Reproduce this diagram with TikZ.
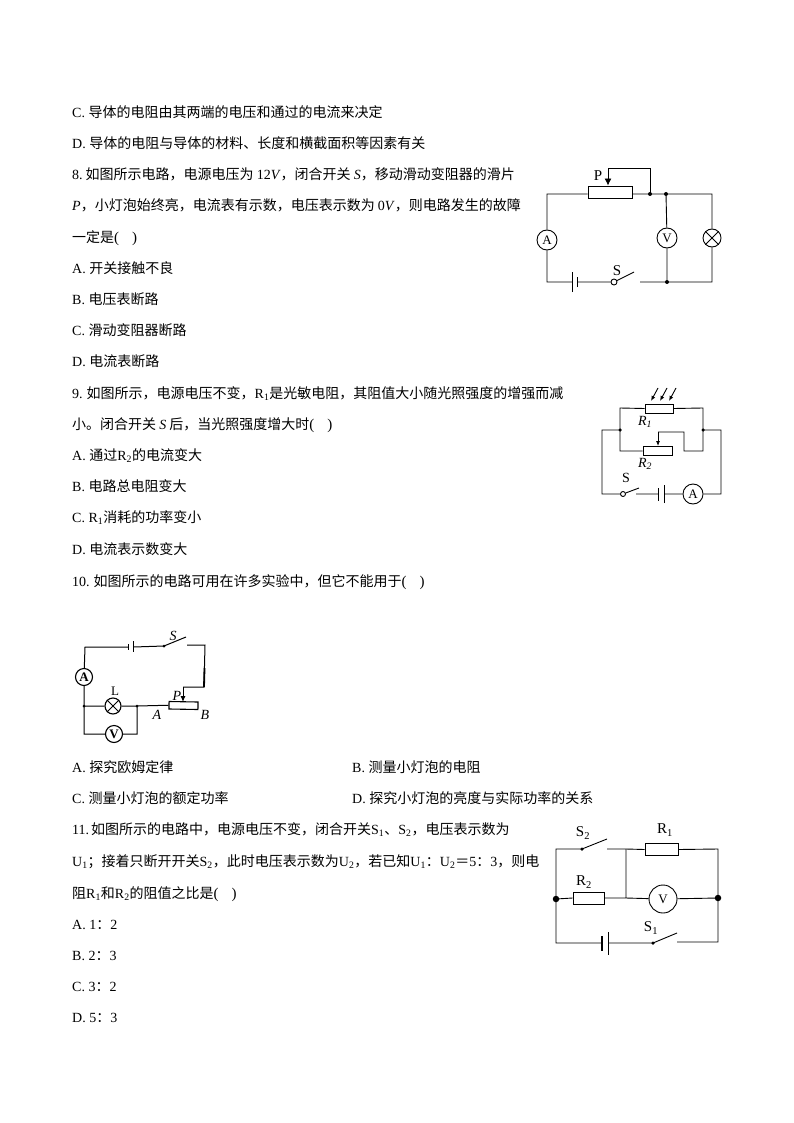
\documentclass[tikz,border=0pt]{standalone}
\usepackage{fontspec}
\setmainfont{Noto Sans CJK SC}
\newfontfamily\latinfont{Liberation Serif}
\usetikzlibrary{arrows.meta}
\newcommand{\lat}[1]{{\latinfont #1}}
\newcommand{\lati}[1]{{\latinfont\itshape #1}}
\newcommand{\lsub}[2]{{\latinfont #1\textsubscript{#2}}}
\newcommand{\blank}{\lat{\fontsize{15}{15}\selectfont(\hspace{13pt})}}
\tikzset{
	line/.style={anchor=base west,inner sep=0pt,font=\fontsize{14}{14}\selectfont},
	wire/.style={line width=0.9pt},
	meter/.style={draw,circle,inner sep=0pt,minimum size=20pt,font=\latinfont\fontsize{13}{13}\selectfont},
	lamp/.style={draw,circle,inner sep=0pt,minimum size=18pt},
	res/.style={draw,rectangle,inner sep=0pt},
	dot/.style={fill,circle,inner sep=0pt,minimum size=4pt},
	pivot/.style={draw,circle,inner sep=0pt,minimum size=6pt},
	lab/.style={inner sep=0pt,font=\latinfont\fontsize{15}{15}\selectfont},
	labi/.style={inner sep=0pt,font=\latinfont\itshape\fontsize{14}{14}\selectfont}
}
\begin{document}
\begin{tikzpicture}[x=1pt,y=-1pt]
	\useasboundingbox (0,0) rectangle (794,1123);
	\node[line] (c7) at (72,118) {\lat{C. }导体的电阻由其两端的电压和通过的电流来决定};
	\node[line] (d7) at (72,149) {\lat{D. }导体的电阻与导体的材料、长度和横截面积等因素有关};
	\node[line] (q8a) at (72,180) {\lat{8.}\hspace{3pt}如图所示电路，电源电压为 \lat{12\textit{V}}，闭合开关 \lati{S}，移动滑动变阻器的滑片};
	\node[line] (q8b) at (72,211) {\lati{P}，小灯泡始终亮，电流表有示数，电压表示数为 \lat{0\textit{V}}，则电路发生的故障};
	\node[line] (q8c) at (72,242) {一定是\blank};
	\node[line] (a8) at (72,273) {\lat{A. }开关接触不良};
	\node[line] (b8) at (72,304) {\lat{B. }电压表断路};
	\node[line] (c8) at (72,335) {\lat{C. }滑动变阻器断路};
	\node[line] (d8) at (72,366) {\lat{D. }电流表断路};
	\node[line] (q9a) at (72,398) {\lat{9.}\hspace{4pt}如图所示，电源电压不变，\lsub{R}{1}是光敏电阻，其阻值大小随光照强度的增强而减};
	\node[line] (q9b) at (72,429) {小。闭合开关 \lati{S} 后，当光照强度增大时\blank};
	\node[line] (a9) at (72,460) {\lat{A. }通过\lsub{R}{2}的电流变大};
	\node[line] (b9) at (72,491) {\lat{B. }电路总电阻变大};
	\node[line] (c9) at (72,522) {\lat{C. }\lsub{R}{1}消耗的功率变小};
	\node[line] (d9) at (72,554) {\lat{D. }电流表示数变大};
	\node[line] (q10) at (72,586) {\lat{10.}\hspace{4pt}如图所示的电路可用在许多实验中，但它不能用于\blank};
	\node[line] (a10) at (72,772) {\lat{A. }探究欧姆定律};
	\node[line] (b10) at (352,772) {\lat{B. }测量小灯泡的电阻};
	\node[line] (c10) at (72,803) {\lat{C. }测量小灯泡的额定功率};
	\node[line] (d10) at (352,803) {\lat{D. }探究小灯泡的亮度与实际功率的关系};
	\node[line] (q11a) at (72,834) {\lat{11.}\hspace{2pt}如图所示的电路中，电源电压不变，闭合开关\lsub{S}{1}、\lsub{S}{2}，电压表示数为};
	\node[line] (q11b) at (72,866) {\lsub{U}{1}；接着只断开开关\lsub{S}{2}，此时电压表示数为\lsub{U}{2}，若已知\lsub{U}{1}：\lsub{U}{2}＝\lat{5}：\lat{3}，则电};
	\node[line] (q11c) at (72,898) {阻\lsub{R}{1}和\lsub{R}{2}的阻值之比是\blank};
	\node[line] (a11) at (72,929) {\lat{A. 1}：\lat{2}};
	\node[line] (b11) at (72,960) {\lat{B. 2}：\lat{3}};
	\node[line] (c11) at (72,991) {\lat{C. 3}：\lat{2}};
	\node[line] (d11) at (72,1022) {\lat{D. 5}：\lat{3}};

	\node[res,wire,minimum width=44pt,minimum height=12pt] (RP) at (610,192) {};
	\node[meter,wire] (A8) at (547,240) {A};
	\node[meter,wire] (V8) at (667,238) {V};
	\node[lamp,wire] (L8) at (712,238) {};
	\node[pivot,wire] (S8) at (614,282) {};
	\node[dot] (J1) at (650,194) {};
	\node[dot] (J2) at (666,194) {};
	\node[dot] (J3) at (667,282) {};
	\node[lab] (P8) at (598,176) {P};
	\node[lab] (SL8) at (617,271) {S};
	\coordinate (TL8) at (547,194);
	\coordinate (BL8) at (547,282);
	\coordinate (TR8) at (712,194);
	\coordinate (BR8) at (712,282);
	\coordinate (E8a) at (572,282);
	\coordinate (E8b) at (577,282);
	\coordinate (K8) at (634,272);
	\coordinate (G8) at (640,282);
	\draw[wire] (RP.west |- TL8) -- (TL8) -- (A8) (A8) -- (BL8) -- (E8a) (E8b) -- (S8) (S8) -- (K8) (G8) -- (J3.center) -- (BR8) -- (L8) (L8) -- (TR8) -- (J2.center) -- (J1.center) -- (RP.east |- J1) (J2) -- (V8) (V8) -- (J3);
	\draw[wire] ([yshift=-10pt]E8a) -- ([yshift=10pt]E8a) ([yshift=-5pt]E8b) -- ([yshift=5pt]E8b);
	\draw[wire] (L8.45) -- (L8.225) (L8.135) -- (L8.315);
	\draw[wire,-{Latex[length=7pt,width=7pt]}] (J1.center) -- (650,168) -- (608,168) -- (RP.north -| 608,0);

	\node[res,wire,minimum width=28pt,minimum height=9pt] (R1) at (659,408.5) {};
	\node[res,wire,minimum width=29pt,minimum height=9pt] (R2) at (657.5,451) {};
	\node[meter,wire] (A9) at (693,494) {A};
	\node[pivot,wire,minimum size=5pt] (S9) at (623,494) {};
	\node[dot,minimum size=3.5pt] (J4) at (620,430) {};
	\node[dot,minimum size=3.5pt] (J5) at (703,430) {};
	\node[labi] (RL1) at (645,422) {R\textsubscript{1}};
	\node[labi] (RL2) at (645,464) {R\textsubscript{2}};
	\node[lab,font=\latinfont\fontsize{14}{14}\selectfont] (SL9) at (626,478) {S};
	\coordinate (G9) at (636,494);
	\coordinate (K9) at (639,488);
	\coordinate (E9a) at (658,494);
	\coordinate (E9b) at (664,494);
	\draw[wire] (J4.center) -- (620,408) -- (R1.west) (R1.east) -- (703,408) -- (J5.center) -- (703,451) -- (684,451) -- (684,432) -- (658,432);
	\draw[wire,-{Latex[length=5pt,width=4pt]}] (658,432) -- (R2.north -| 658,0);
	\draw[wire] (J4.center) -- (620,451) -- (R2.west) (J4.center) -- (602,430) -- (602,494) -- (S9) (S9) -- (K9) (G9) -- (E9a) (E9b) -- (A9) (A9) -- (721,494) -- (721,430) -- (J5.center);
	\draw[wire] ([yshift=-6.5pt]E9a) -- ([yshift=6.5pt]E9a) ([yshift=-9pt]E9b) -- ([yshift=9pt]E9b);
	\foreach \k in {0,9,18}
		\draw[wire,-{Latex[length=5pt,width=4pt]}] (658+\k,388) -- (651+\k,401);

	\node[meter,minimum size=17pt,line width=1.1pt,font=\latinfont\bfseries\fontsize{13}{13}\selectfont] (A10) at (84,677) {A};
	\node[meter,minimum size=17pt,line width=1.1pt,font=\latinfont\bfseries\fontsize{13}{13}\selectfont] (V10) at (114,734) {V};
	\node[lamp,minimum size=16pt,line width=1.1pt] (L10) at (113,706) {};
	\node[res,line width=1.1pt,minimum width=29pt,minimum height=7.5pt,rotate=-1] (RB) at (183.5,705.5) {};
	\node[dot,minimum size=3pt] (J6) at (84,706) {};
	\node[dot,minimum size=3pt] (J7) at (137,706) {};
	\node[dot,minimum size=3pt] (S10) at (164,646) {};
	\node[labi] (SL10) at (173,636) {S};
	\node[lab,font=\latinfont\fontsize{13}{13}\selectfont] (LL10) at (115,691) {L};
	\node[labi] (PL10) at (177,696) {P};
	\node[labi] (AL10) at (157,715) {A};
	\node[labi] (BL10) at (205,715) {B};
	\coordinate (E10a) at (128.5,647);
	\coordinate (E10b) at (133.5,647);
	\draw[line width=1pt] (A10) -- (85,647) -- (E10a) (E10b) -- (S10.center) -- (186,637) (187,645) -- (205,645) -- (204,687) -- (183,687);
	\draw[line width=1.8pt] (204.5,668) -- (204,687);
	\draw[line width=1pt,-{Latex[length=6pt,width=5pt]}] (183,687) -- (183,702);
	\draw[line width=1pt] (A10) -- (J6.center) -- (L10) (L10) -- (J7.center) -- (RB.west) (J6.center) -- (84,734) -- (V10) (V10) -- (137,734) -- (J7.center);
	\draw[line width=0.8pt] (E10a |- 0,644) -- (E10a |- 0,650);
	\draw[line width=1.4pt] (E10b |- 0,641) -- (E10b |- 0,652);
	\draw[line width=1pt] (L10.45) -- (L10.225) (L10.135) -- (L10.315);

	\node[res,wire,minimum width=33pt,minimum height=12pt] (R11a) at (661.5,849.5) {};
	\node[res,wire,minimum width=31pt,minimum height=12pt] (R11b) at (588.5,898) {};
	\node[meter,wire,minimum size=28pt] (V11) at (663,899) {V};
	\node[dot,minimum size=3.5pt] (S21) at (582,849) {};
	\node[dot,minimum size=3.5pt] (S11) at (653,943) {};
	\node[dot,minimum size=6.5pt] (J8) at (556,899) {};
	\node[dot,minimum size=6.5pt] (J9) at (718,898) {};
	\node[lab] (SL1) at (651,928) {S\textsubscript{1}};
	\node[lab] (SL2) at (583,833) {S\textsubscript{2}};
	\node[lab] (RL11a) at (665,830) {R\textsubscript{1}};
	\node[lab] (RL11b) at (584,882) {R\textsubscript{2}};
	\coordinate (M11) at (626,849);
	\coordinate (N11) at (626,898);
	\coordinate (E11a) at (602,943);
	\coordinate (E11b) at (608,943);
	\draw[wire] (J8.center) -- (556,849) -- (S21.center) -- (607,839) (607,849) -- (M11) -- (R11a.west) (R11a.east) -- (718,849) -- (J9.center) -- (718,942) -- (677,942) (677,933) -- (S11.center) -- (E11b) (E11a) -- (556,943) -- (J8.center);
	\draw[wire] (J8.center) -- (R11b.west) (R11b.east) -- (N11) -- (V11) (V11) -- (J9.center) (M11) -- (N11);
	\draw[line width=1.3pt] ([yshift=-7.5pt]E11a) -- ([yshift=7.5pt]E11a);
	\draw[wire] ([yshift=-11.5pt]E11b) -- ([yshift=11.5pt]E11b);
\end{tikzpicture}
\end{document}
